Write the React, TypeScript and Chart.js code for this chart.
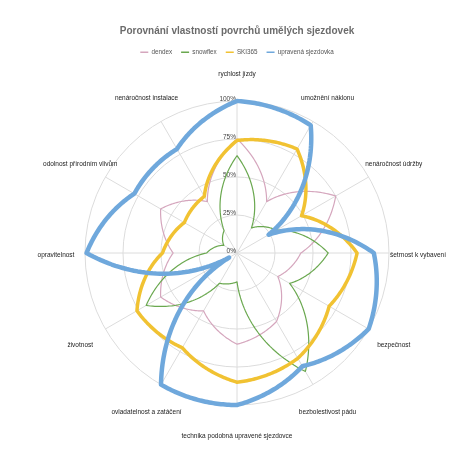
import { useEffect, useRef } from 'react'
import Chart from 'chart.js/auto'

const FONT = "'Liberation Sans', Arial, sans-serif"

const CATEGORIES = [
  'rychlost jízdy',
  'umožnění náklonu',
  'nenáročnost údržby',
  'šetrnost k vybavení',
  'bezpečnost',
  'bezbolestivost pádu',
  'technika podobná upravené sjezdovce',
  'ovladatelnost a zatáčení',
  'životnost',
  'opravitelnost',
  'odolnost přírodním vlivům',
  'nenáročnost instalace',
]

const SERIES_NAMES = ['dendex', 'snowflex', 'SKI365', 'upravená sjezdovka']

const DENDEX   = [75, 39, 75, 42, 31, 52, 60, 44, 58, 42, 58, 39]
const SNOWFLEX = [64, 19, 30, 60, 40, 90, 19, 23, 69, 20, 10, 17]
const SKI365   = [74, 79, 49, 79, 70, 80, 85, 72, 76, 49, 40, 43]
const UPRAVENA = [100, 97, 24, 90, 100, 86, 100, 100, 6, 99, 78, 79]

const TICK_VALUES = [0, 25, 50, 75, 100]
const TICK_LABELS = ['0%', '25%', '50%', '75%', '100%']

const COLORS = ['#d5a6bd', '#6aa84f', '#f1c232', '#6fa8dc']
const WIDTHS = [1.2, 1.2, 3.5, 4.5]

// lines between axes follow the polar grid (radius changes with the angle), like the original
const polarLines = {
  id: 'polarLines',
  beforeDatasetsDraw(chart: any) {
    const scale = chart.scales.r
    const ctx = chart.ctx
    ctx.save()
    ctx.font = `6.5px ${FONT}`
    ctx.fillStyle = '#444'
    ctx.textAlign = 'right'
    ctx.textBaseline = 'middle'
    TICK_VALUES.forEach((v, i) => {
      const p = scale.getPointPosition(0, scale.getDistanceFromCenterForValue(v))
      ctx.fillText(TICK_LABELS[i], p.x - 1, p.y - 2)
    })
    ctx.restore()
  },
  afterDatasetsDraw(chart: any) {
    const scale = chart.scales.r
    const ctx = chart.ctx
    const n = CATEGORIES.length
    const steps = 40
    chart.data.datasets.forEach((ds: any, di: number) => {
      if (!chart.isDatasetVisible(di)) return
      const vals = ds.data as number[]
      ctx.save()
      ctx.beginPath()
      for (let i = 0; i < n; i++) {
        const a = vals[i]
        const b = vals[(i + 1) % n]
        for (let s = 0; s < steps; s++) {
          const t = s / steps
          const p = scale.getPointPosition(i + t, scale.getDistanceFromCenterForValue(a + (b - a) * t))
          if (i === 0 && s === 0) ctx.moveTo(p.x, p.y)
          else ctx.lineTo(p.x, p.y)
        }
      }
      ctx.closePath()
      ctx.lineWidth = ds.borderWidth
      ctx.strokeStyle = ds.borderColor
      ctx.lineJoin = 'round'
      ctx.stroke()
      ctx.restore()
    })
  },
  afterDraw(chart: any) {
    const scale = chart.scales.r
    const ctx = chart.ctx
    ctx.save()
    ctx.font = `6.5px ${FONT}`
    ctx.fillStyle = '#222'
    ctx.textAlign = 'center'
    ctx.textBaseline = 'middle'
    CATEGORIES.forEach((c, i) => {
      const p = scale.getPointPosition(i, scale.drawingArea + 29)
      ctx.fillText(c, p.x, p.y + 2)
    })
    ctx.restore()
  },
}

export default function App() {
  const canvasRef = useRef<HTMLCanvasElement>(null)
  const chartRef = useRef<Chart | null>(null)

  useEffect(() => {
    if (!canvasRef.current) return
    const seriesData = [DENDEX, SNOWFLEX, SKI365, UPRAVENA]

    chartRef.current = new Chart(canvasRef.current, {
      type: 'radar',
      data: {
        labels: CATEGORIES,
        datasets: seriesData.map((d, i) => ({
          label: SERIES_NAMES[i],
          data: d,
          borderColor: COLORS[i],
          backgroundColor: 'transparent',
          borderWidth: WIDTHS[i],
          showLine: false,
          pointRadius: 0,
          pointHoverRadius: 0,
          fill: false,
        })),
      },
      options: {
        responsive: true,
        maintainAspectRatio: false,
        animation: false,
        layout: { padding: { left: 85, right: 85, top: 0, bottom: 19 } },
        plugins: {
          title: {
            display: true,
            text: 'Porovnání vlastností povrchů umělých sjezdovek',
            color: '#6b6b6b',
            font: { family: FONT, size: 10, weight: 'bold' },
            padding: { top: 25, bottom: 3 },
          },
          legend: {
            position: 'top',
            labels: {
              usePointStyle: true,
              pointStyleWidth: 8,
              boxHeight: 6.5,
              padding: 9,
              color: '#555',
              font: { family: FONT, size: 6.3 },
              generateLabels: (chart: any) => chart.data.datasets.map((ds: any, i: number) => ({
                text: ds.label,
                fillStyle: ds.borderColor,
                strokeStyle: ds.borderColor,
                lineWidth: 1.5,
                pointStyle: 'line',
                hidden: !chart.isDatasetVisible(i),
                datasetIndex: i,
                fontColor: '#555',
              })),
            },
          },
          tooltip: { enabled: false },
        },
        scales: {
          r: {
            min: 0,
            max: 100,
            ticks: { stepSize: 25, display: false },
            pointLabels: { display: false },
            grid: { circular: true, color: '#dcdcdc', lineWidth: 1 },
            angleLines: { color: '#dcdcdc', lineWidth: 1 },
          },
        },
      },
      plugins: [polarLines],
    } as any)

    return () => { chartRef.current?.destroy(); chartRef.current = null }
  }, [])

  return (
    <div style={{ position: 'absolute', left: 0, top: 0, width: 474, height: 461, background: '#fff' }}>
      <canvas ref={canvasRef} />
    </div>
  )
}
